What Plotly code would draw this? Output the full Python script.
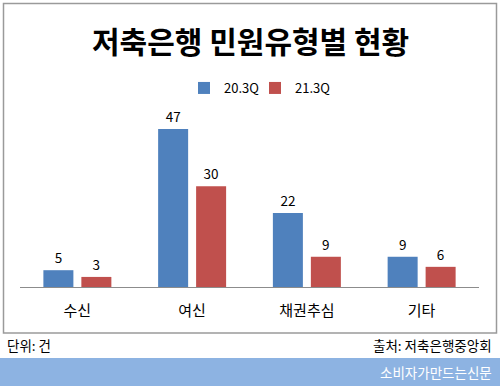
import plotly.graph_objects as go

categories = ["수신", "여신", "채권추심", "기타"]
series_names = ["20.3Q", "21.3Q"]
values_2020 = [5, 47, 22, 9]
values_2021 = [3, 30, 9, 6]
colors = ["#4F81BD", "#C0504D"]

W, H = 500, 388
FONT = "Noto Sans CJK KR, Malgun Gothic, sans-serif"

def px(x):
    return x / W

def py(y):
    return (H - y) / H

fig = go.Figure()
for name, vals, col, lw in zip(series_names, [values_2020, values_2021], colors, [26, 60]):
    fig.add_trace(go.Bar(
        x=categories, y=vals, name=name,
        marker=dict(color=col, line=dict(width=0)),
        text=[str(v) for v in vals], textposition="outside",
        textfont=dict(size=13.5, color="#000000", family=FONT),
        cliponaxis=False, legendwidth=lw,
    ))

fig.update_layout(
    width=W, height=H,
    margin=dict(l=0, r=0, t=0, b=0),
    paper_bgcolor="white", plot_bgcolor="white",
    barmode="group", bargap=0.338, bargroupgap=0.21,
    font=dict(family=FONT, color="#000000"),
    showlegend=True,
    legend=dict(orientation="h", x=0.544, xanchor="center", y=py(88), yanchor="middle",
                font=dict(size=13, family=FONT), itemwidth=30, traceorder="normal",
                bgcolor="rgba(0,0,0,0)"),
    xaxis=dict(domain=[px(20), px(479)], showline=True, linecolor="#8C8C8C", linewidth=1,
               ticks="", showgrid=False, tickfont=dict(size=15, family=FONT),
               ticklabelstandoff=10, fixedrange=True),
    yaxis=dict(domain=[py(287), py(119)], range=[0, 50], showticklabels=False,
               showgrid=False, zeroline=False, showline=False, ticks="", fixedrange=True),
)

# chart border
fig.add_shape(type="rect", xref="paper", yref="paper",
              x0=px(3.5), x1=px(496.5), y0=py(333), y1=py(3.5),
              line=dict(color="#9A9A9A", width=1.5), fillcolor="rgba(0,0,0,0)", layer="below")
# banner
fig.add_shape(type="rect", xref="paper", yref="paper",
              x0=0, x1=1, y0=py(386), y1=py(358),
              line=dict(width=0), fillcolor="#8DB3E2", layer="below")

fig.add_annotation(text="<b>저축은행 민원유형별 현황</b>", xref="paper", yref="paper",
                   x=0.5, y=py(40), xanchor="center", yanchor="middle", showarrow=False,
                   font=dict(size=30, family=FONT, color="#000000"))
fig.add_annotation(text="단위: 건", xref="paper", yref="paper",
                   x=px(5), y=py(345), xanchor="left", yanchor="middle", showarrow=False,
                   font=dict(size=13.5, family=FONT, color="#000000"))
fig.add_annotation(text="출처: 저축은행중앙회", xref="paper", yref="paper",
                   x=px(494), y=py(345), xanchor="right", yanchor="middle", showarrow=False,
                   font=dict(size=13.5, family=FONT, color="#000000"))
fig.add_annotation(text="소비자가만드는신문", xref="paper", yref="paper",
                   x=px(494), y=py(372), xanchor="right", yanchor="middle", showarrow=False,
                   font=dict(size=13.5, family=FONT, color="#FFFFFF"))

fig.write_html("out.html", config={"displayModeBar": False},
               post_script="document.body.style.margin='0';document.body.style.overflow='hidden';")
